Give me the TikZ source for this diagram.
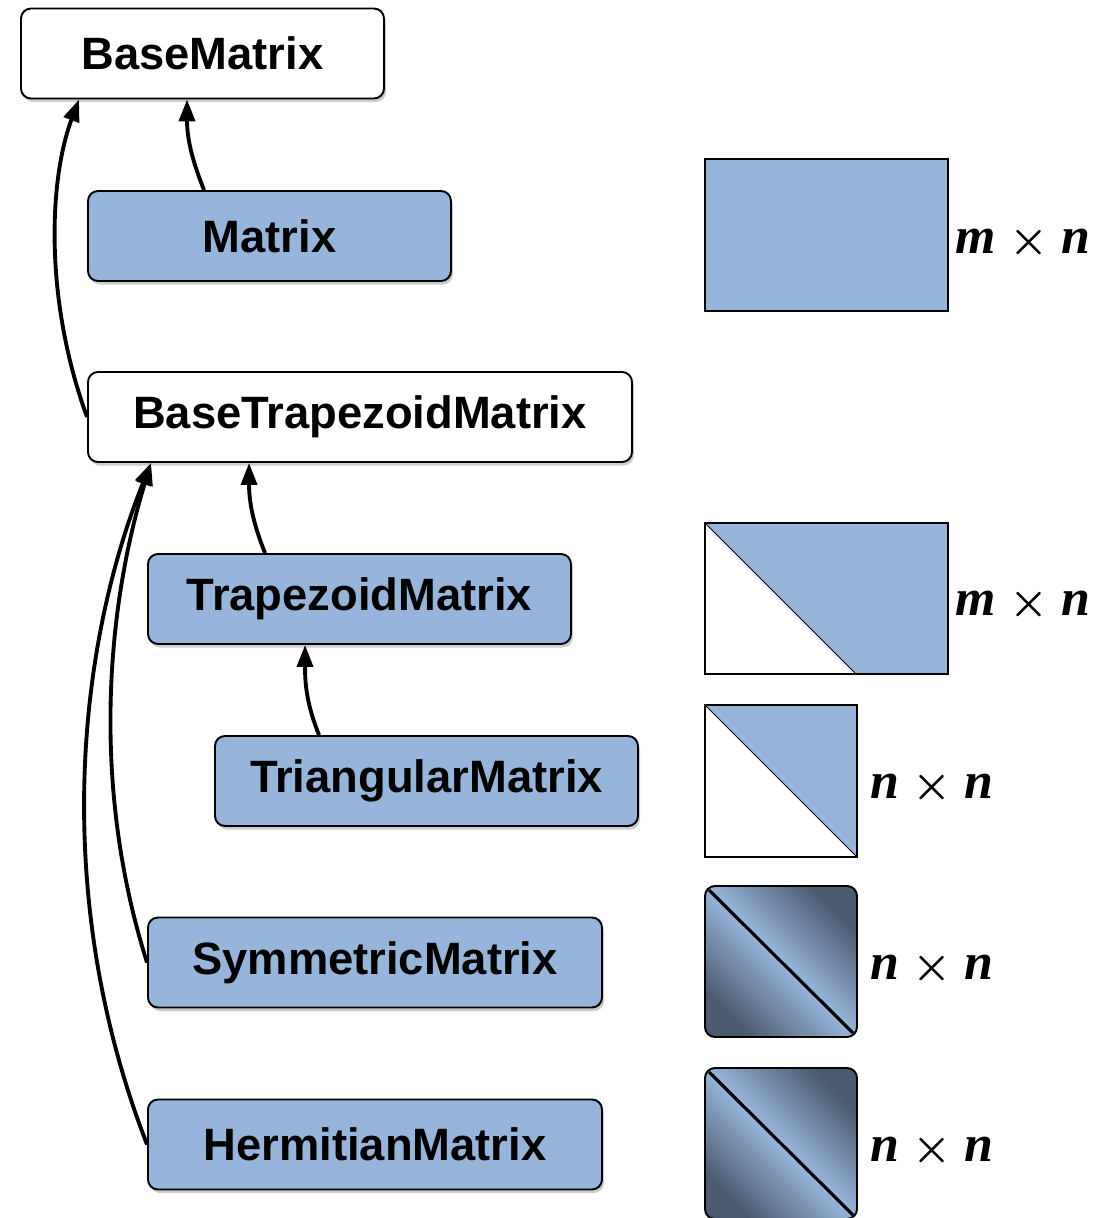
\documentclass[tikz,border=0pt]{standalone}
\usepackage{fontspec}
\usepackage{tikz}
\usetikzlibrary{arrows.meta,shadows}
\newfontfamily\boxfont{Liberation Sans}
\newfontfamily\dimfont{Liberation Serif}
\newcommand{\sz}[1]{\textbf{\textit{#1}}}
\definecolor{ink}{HTML}{000000}
\definecolor{fillblue}{HTML}{97B5DA}
\definecolor{deepblue}{HTML}{4B5A70}
\tikzset{
  cls/.style={draw=ink, line width=1.1pt, rounded corners=0.2cm, fill=white,
    minimum height=1.8cm, inner sep=0pt,
    font=\boxfont\bfseries\fontsize{25.8}{30}\selectfont,
    drop shadow={shadow xshift=0.04cm, shadow yshift=-0.07cm, opacity=0.4}},
  mat/.style={cls, fill=fillblue},
  inh/.style={draw=ink, line width=2.2pt, -{Triangle[length=4.4mm,width=3.2mm]}},
  grid/.style={draw=ink, line width=0.9pt},
  dim/.style={font=\dimfont\fontsize{29.5}{34}\selectfont\boldmath},
}

\begin{document}
\begin{tikzpicture}
  \useasboundingbox (0,0) rectangle (22.3,-24.36);

  % class boxes
  \node[cls, minimum width=7.26cm]  (base)  at (4.05,-1.07)  {BaseMatrix};
  \node[mat, minimum width=7.26cm]  (dense) at (5.39,-4.72)  {Matrix};
  \node[cls, minimum width=10.88cm] (btrap) at (7.20,-8.34)  {BaseTrapezoidMatrix};
  \node[mat, minimum width=8.46cm]  (trap)  at (7.19,-11.98) {TrapezoidMatrix};
  \node[mat, minimum width=8.46cm]  (tri)   at (8.53,-15.62) {TriangularMatrix};
  \node[mat, minimum width=9.08cm]  (sym)   at (7.50,-19.25) {SymmetricMatrix};
  \node[mat, minimum width=9.08cm]  (herm)  at (7.50,-22.89) {HermitianMatrix};

  % inheritance
  \draw[inh] ([xshift=2.34cm]dense.north west) to[out=112,in=-90] ([xshift=3.34cm]base.south west);
  \draw[inh] (btrap.west) .. controls +(-0.86,2.36) and +(-0.6,-1.6) .. ([xshift=1.18cm]base.south west);
  \draw[inh] ([xshift=2.36cm]trap.north west) to[out=112,in=-90] ([xshift=3.24cm]btrap.south west);
  \draw[inh] ([xshift=2.10cm]tri.north west) to[out=112,in=-90] ([xshift=3.16cm]trap.south west);
  \draw[inh] (sym.west) .. controls +(-1.16,3.66) and +(-0.84,-2.74) .. ([xshift=1.28cm]btrap.south west);
  \draw[inh] (herm.west) .. controls +(-1.9,4.9) and +(-1.5,-3.74) .. ([xshift=1.28cm]btrap.south west);

  % storage shapes
  \fill[fillblue] (14.10,-3.18) rectangle (18.96,-6.22);
  \draw[grid] (14.10,-3.18) rectangle (18.96,-6.22);

  \fill[fillblue] (14.10,-10.46) -- (18.96,-10.46) -- (18.96,-13.48) -- (17.12,-13.48) -- cycle;
  \draw[grid] (14.10,-10.46) rectangle (18.96,-13.48);
  \draw[ink, line width=0.5pt] (14.10,-10.46) -- (17.12,-13.48);

  \fill[fillblue] (14.10,-14.10) -- (17.14,-14.10) -- (17.14,-17.14) -- cycle;
  \draw[grid] (14.10,-14.10) rectangle (17.14,-17.14);
  \draw[ink, line width=0.5pt] (14.10,-14.10) -- (17.14,-17.14);

  \foreach \top in {-17.72,-21.36} {
    \shade[rounded corners=0.2cm, top color=deepblue, bottom color=deepblue,
      middle color=fillblue, shading angle=-45]
      (14.10,\top) rectangle ++(3.04,-3.02);
    \draw[grid, line width=1.1pt, rounded corners=0.2cm] (14.10,\top) rectangle ++(3.04,-3.02);
    \draw[ink, line width=1.8pt] (14.18,\top-0.08) -- ++(2.88,-2.86);
  }

  % sizes
  \node[dim] (mn1) at (20.46,-4.85)  {\sz{m} $\times$ \sz{n}};
  \node[dim] (mn2) at (20.46,-12.10) {\sz{m} $\times$ \sz{n}};
  \node[dim] (nn1) at (18.64,-15.76) {\sz{n} $\times$ \sz{n}};
  \node[dim] (nn2) at (18.64,-19.38) {\sz{n} $\times$ \sz{n}};
  \node[dim] (nn3) at (18.64,-23.02) {\sz{n} $\times$ \sz{n}};
\end{tikzpicture}
\end{document}
